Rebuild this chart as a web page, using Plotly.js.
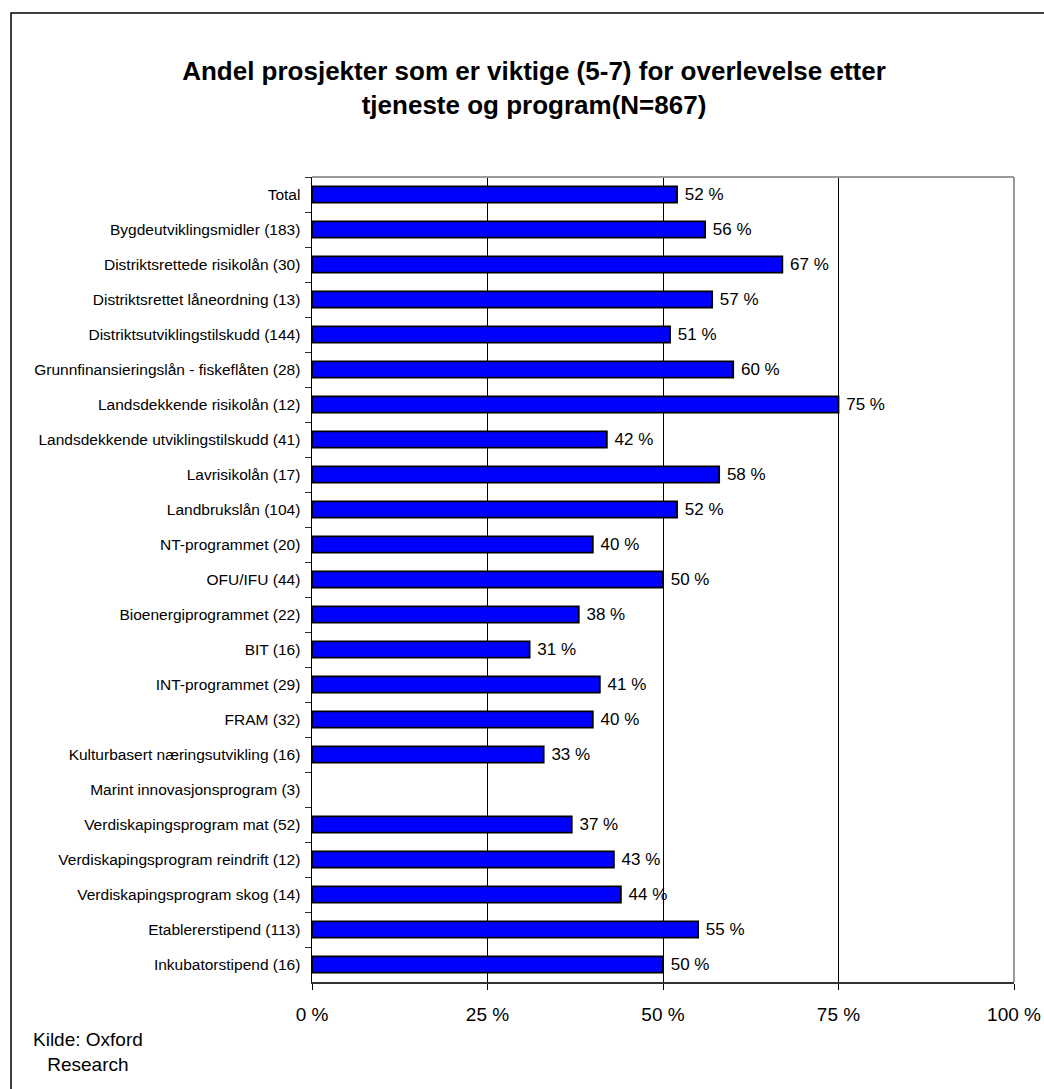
<!DOCTYPE html>
<html>
<head>
<meta charset="utf-8">
<script src="https://cdn.plot.ly/plotly-3.0.1.min.js"></script>
<style>
  html, body { margin: 0; padding: 0; background: #fff; }
  #chart { width: 1044px; height: 1089px; }
</style>
</head>
<body>
<div id="chart"></div>
<script>
// ---- data ----
const categories = [
  "Total",
  "Bygdeutviklingsmidler (183)",
  "Distriktsrettede risikolån (30)",
  "Distriktsrettet låneordning (13)",
  "Distriktsutviklingstilskudd (144)",
  "Grunnfinansieringslån - fiskeflåten (28)",
  "Landsdekkende risikolån (12)",
  "Landsdekkende utviklingstilskudd (41)",
  "Lavrisikolån (17)",
  "Landbrukslån (104)",
  "NT-programmet (20)",
  "OFU/IFU (44)",
  "Bioenergiprogrammet (22)",
  "BIT (16)",
  "INT-programmet (29)",
  "FRAM (32)",
  "Kulturbasert næringsutvikling (16)",
  "Marint innovasjonsprogram (3)",
  "Verdiskapingsprogram mat (52)",
  "Verdiskapingsprogram reindrift (12)",
  "Verdiskapingsprogram skog (14)",
  "Etablererstipend (113)",
  "Inkubatorstipend (16)"
];
const sharePercent = [52, 56, 67, 57, 51, 60, 75, 42, 58, 52, 40, 50, 38, 31, 41, 40, 33, null, 37, 43, 44, 55, 50];
const tickValues = [0, 25, 50, 75, 100];
const tickLabels = ["0 %", "25 %", "50 %", "75 %", "100 %"];
const titleText = "Andel prosjekter som er viktige (5-7) for overlevelse etter<br>tjeneste og program(N=867)";
const sourceText = "Kilde: Oxford<br>Research";

// ---- chart ----
const FONT = "Arial, 'Liberation Sans', sans-serif";
const barLabels = sharePercent.map(v => (v === null ? "" : " " + v + " %"));

const trace = {
  type: "bar",
  orientation: "h",
  y: categories,
  x: sharePercent,
  text: barLabels,
  textposition: "outside",
  constraintext: "none",
  cliponaxis: false,
  textfont: { family: FONT, size: 17, color: "#000" },
  marker: { color: "#0000FF", line: { color: "#000000", width: 1.8 } },
  hoverinfo: "none"
};

// plot area in pixels: x 312..1014, y 177..982
const L = 312, R = 1014, T = 177, B = 982;
const W = R - L, H = B - T;
const px = x => (x - L) / W;
const py = y => (B - y) / H;

const layout = {
  width: 1044,
  height: 1089,
  margin: { l: L, r: 1044 - R, t: T, b: 1089 - B, pad: 0 },
  paper_bgcolor: "#ffffff",
  plot_bgcolor: "#ffffff",
  showlegend: false,
  bargap: 0.54,
  font: { family: FONT, color: "#000" },
  title: {
    text: titleText,
    font: { family: FONT, size: 26, color: "#000", weight: "bold" },
    x: 534 / 1044,
    xanchor: "center",
    xref: "container",
    y: 1 - 80 / 1089,
    yanchor: "middle",
    yref: "container"
  },
  xaxis: {
    range: [0, 100],
    tickvals: tickValues,
    ticktext: tickLabels,
    tickfont: { family: FONT, size: 19, color: "#000" },
    ticks: "outside",
    ticklen: 6,
    tickcolor: "#000",
    tickwidth: 1,
    showgrid: true,
    gridcolor: "#000",
    gridwidth: 1,
    showline: true,
    linecolor: "#333",
    linewidth: 2,
    zeroline: false,
    fixedrange: true,
    ticklabelstandoff: 8
  },
  yaxis: {
    type: "category",
    autorange: "reversed",
    tickson: "boundaries",
    ticks: "outside",
    ticklen: 6,
    tickcolor: "#333",
    tickwidth: 1,
    tickfont: { family: FONT, size: 15.5, color: "#000" },
    showgrid: false,
    showline: true,
    linecolor: "#000",
    linewidth: 1.5,
    zeroline: false,
    fixedrange: true,
    ticklabelstandoff: 7
  },
  shapes: [
    // outer chart border (left & top visible; right/bottom run off the page)
    { type: "rect", xref: "paper", yref: "paper", x0: px(11), x1: px(1060), y0: py(1100), y1: py(13),
      line: { color: "#000", width: 1.5 }, fillcolor: "rgba(0,0,0,0)", layer: "above" },
    // plot area top & right borders (grey)
    { type: "line", xref: "paper", yref: "paper", x0: 0, x1: 1, y0: 1, y1: 1,
      line: { color: "#9a9a9a", width: 2 }, layer: "above" },
    { type: "line", xref: "paper", yref: "paper", x0: 1, x1: 1, y0: 0, y1: 1,
      line: { color: "#9a9a9a", width: 2 }, layer: "above" }
  ],
  annotations: [
    { text: sourceText, xref: "paper", yref: "paper", x: px(88), y: py(1052),
      xanchor: "center", yanchor: "middle", align: "center", showarrow: false,
      font: { family: FONT, size: 19, color: "#000" } }
  ]
};

Plotly.newPlot("chart", [trace], layout, { displayModeBar: false, staticPlot: true });
</script>
</body>
</html>
